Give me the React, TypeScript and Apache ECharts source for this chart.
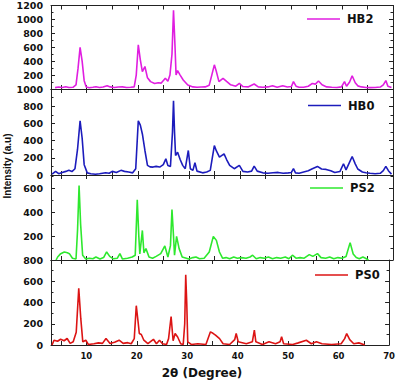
import React, { useEffect, useRef } from "react";
import * as echarts from "echarts";

// XRD patterns: [2θ (degree), intensity (a.u.)]
const hb2: [number, number][] = [
  [3.8, 20], [4.5, 28], [5.2, 22], [5.9, 32], [6.5, 22], [7.3, 25], [7.9, 60], [8.3, 300], [8.7, 598], [9.1, 400],
  [9.5, 120], [9.9, 30], [10.5, 18], [11.2, 25], [11.8, 32], [12.5, 22], [13.2, 28], [14.0, 48], [14.6, 30], [15.4, 22],
  [16.2, 28], [17.0, 30], [17.8, 22], [18.6, 25], [19.3, 30], [19.7, 200], [20.1, 636], [20.5, 420], [20.9, 250], [21.4, 323],
  [21.9, 160], [22.5, 106], [23.3, 80], [24.0, 90], [24.6, 85], [25.4, 155], [25.9, 110], [26.3, 200], [26.7, 500], [27.0, 1133],
  [27.3, 600], [27.5, 200], [27.8, 265], [28.3, 200], [28.9, 130], [29.8, 58], [30.8, 30], [31.6, 25], [32.4, 28], [33.2, 30],
  [34.0, 55], [34.5, 200], [35.0, 347], [35.4, 250], [35.9, 106], [36.7, 154], [37.4, 110], [38.2, 60], [39.2, 40], [39.9, 80],
  [40.6, 35], [41.6, 30], [42.8, 72], [43.6, 30], [44.5, 25], [45.5, 30], [46.4, 46], [47.3, 25], [48.4, 46], [49.3, 28],
  [50.1, 35], [50.5, 106], [51.0, 40], [51.6, 25], [52.5, 25], [53.4, 40], [54.2, 80], [54.8, 70], [55.4, 115], [56.1, 60],
  [57.0, 30], [58.0, 25], [59.0, 22], [59.9, 30], [60.5, 106], [60.9, 40], [61.5, 100], [62.0, 190], [62.6, 90], [63.1, 45],
  [63.8, 30], [64.7, 22], [65.5, 20], [66.5, 22], [67.5, 28], [68.1, 60], [68.6, 120], [69.0, 40], [69.7, 20],
];

const hb0: [number, number][] = [
  [3.2, 10], [3.9, 42], [4.5, 15], [5.2, 30], [5.9, 42], [6.5, 54], [7.1, 40], [7.7, 73], [8.2, 300], [8.7, 631],
  [9.1, 430], [9.5, 120], [10.1, 25], [10.8, 15], [11.7, 8], [12.5, 15], [13.7, 27], [14.4, 20], [15.0, 42], [15.8, 30],
  [16.7, 54], [17.4, 42], [18.2, 35], [19.0, 25], [19.6, 73], [20.1, 631], [20.5, 580], [20.9, 477], [21.4, 285], [21.9, 112],
  [22.4, 95], [23.0, 92], [23.6, 100], [24.3, 92], [25.0, 120], [25.5, 188], [25.9, 110], [26.4, 100], [26.8, 500], [27.0, 862],
  [27.2, 500], [27.4, 227], [27.8, 265], [28.3, 180], [28.8, 112], [29.3, 73], [29.9, 285], [30.3, 73], [30.8, 54], [31.2, 142],
  [31.6, 45], [32.7, 25], [33.5, 35], [34.2, 54], [34.6, 200], [35.0, 342], [35.4, 280], [36.0, 208], [36.9, 246], [37.4, 180],
  [38.0, 112], [38.9, 73], [39.9, 112], [40.6, 42], [41.5, 35], [42.3, 45], [42.8, 104], [43.4, 45], [44.5, 25], [45.5, 20],
  [46.5, 27], [47.5, 30], [48.5, 20], [49.5, 25], [50.1, 30], [50.5, 73], [50.9, 25], [51.6, 20], [52.5, 35], [53.4, 50],
  [54.2, 73], [55.2, 100], [56.0, 70], [56.9, 65], [57.8, 50], [58.6, 30], [59.6, 40], [60.3, 131], [60.8, 60], [61.5, 150],
  [62.0, 215], [62.6, 130], [63.1, 70], [64.0, 35], [64.7, 27], [65.5, 20], [66.5, 15], [67.5, 20], [68.1, 50], [68.6, 100],
  [69.1, 50], [69.7, 10],
];

const ps2: [number, number][] = [
  [4.0, 0], [4.3, 25], [4.9, 53], [5.6, 67], [6.2, 60], [6.6, 53], [7.2, 15], [7.9, 8], [8.2, 250], [8.5, 623],
  [8.8, 300], [9.2, 40], [9.8, 8], [10.5, 15], [11.2, 10], [11.8, 25], [12.6, 8], [13.3, 20], [13.9, 67], [14.5, 30],
  [15.2, 10], [16.0, 15], [16.5, 53], [17.0, 8], [18.0, 15], [18.9, 25], [19.5, 40], [19.9, 503], [20.2, 200], [20.4, 50],
  [20.9, 247], [21.2, 60], [21.6, 95], [22.2, 25], [22.9, 15], [23.6, 30], [24.5, 53], [25.3, 117], [25.9, 25], [26.4, 120],
  [26.7, 422], [27.0, 200], [27.2, 40], [27.6, 197], [28.1, 95], [28.7, 25], [30.0, 8], [30.8, 20], [31.4, 25], [32.1, 10],
  [33.0, 15], [34.0, 67], [34.8, 197], [35.4, 164], [36.0, 67], [36.6, 15], [37.3, 20], [38.0, 10], [38.8, 25], [39.5, 15],
  [40.3, 20], [41.2, 15], [42.0, 25], [42.5, 40], [43.2, 10], [44.0, 20], [44.8, 15], [45.6, 25], [46.4, 10], [47.2, 20],
  [48.0, 15], [48.9, 25], [49.6, 10], [50.3, 40], [51.0, 15], [51.8, 20], [52.6, 15], [53.6, 45], [54.3, 30], [55.2, 53],
  [55.9, 20], [56.8, 15], [57.6, 25], [58.4, 10], [59.2, 20], [60.0, 15], [60.8, 30], [61.6, 145], [62.2, 50], [62.8, 20],
  [63.4, 10], [64.1, 25], [64.6, 15], [65.2, 0],
];

const ps0: [number, number][] = [
  [3.2, 0], [3.6, 45], [4.3, 35], [4.9, 54], [5.6, 40], [6.2, 61], [6.8, 15], [7.4, 30], [8.0, 120], [8.5, 533],
  [8.9, 250], [9.3, 30], [9.9, 45], [10.4, 5], [11.5, 12], [12.4, 20], [13.2, 15], [13.9, 61], [14.7, 15], [15.6, 25],
  [16.5, 45], [17.3, 15], [18.2, 22], [18.9, 12], [19.5, 60], [19.9, 370], [20.3, 200], [20.5, 108], [20.9, 99], [21.4, 45],
  [22.2, 12], [23.3, 54], [23.9, 12], [24.5, 45], [25.1, 12], [25.9, 5], [26.3, 60], [26.8, 268], [27.2, 40], [27.6, 108],
  [28.1, 75], [28.7, 12], [29.2, 5], [29.5, 200], [29.7, 660], [29.9, 400], [30.1, 30], [30.8, 5], [32.1, 12], [33.7, 5],
  [34.6, 124], [35.1, 110], [35.6, 93], [36.4, 60], [37.1, 12], [38.4, 5], [39.4, 50], [39.7, 108], [40.1, 30], [41.7, 12],
  [42.9, 30], [43.3, 140], [43.6, 30], [44.9, 5], [46.2, 30], [47.5, 12], [48.4, 30], [48.7, 77], [49.1, 12], [50.9, 5],
  [52.0, 20], [53.6, 45], [54.6, 12], [55.6, 30], [56.7, 12], [58.6, 5], [60.5, 12], [61.2, 60], [61.6, 108], [62.2, 50],
  [63.0, 12], [64.0, 20], [65.2, 0],
];

const sampleNames = ["HB2", "HB0", "PS2", "PS0"];
const sampleColors = ["#e01ee0", "#1c1cbc", "#2ee82e", "#dc1414"];
const yMax = [1200, 1000, 710, 800];
const xTicks = [5, 10, 15, 20, 25, 30, 35, 40, 45, 50, 55, 60, 65, 70];
const xLabels = [10, 20, 30, 40, 50, 60, 70];

const X_MIN = 3;
const X_MAX = 70;
const AXIS_COLOR = "#222";
const LABEL_FONT = "DejaVu Sans";

// panel geometry (px); legend rows are placed by their vertical centre
const panels = [
  { top: 5.5, height: 83.5, legendLeft: 307, legendMid: 19, showMin: false, showMax: true },
  { top: 89, height: 86, legendLeft: 308, legendMid: 105.5, showMin: true, showMax: true },
  { top: 175, height: 85, legendLeft: 310, legendMid: 188, showMin: false, showMax: false },
  { top: 260, height: 85, legendLeft: 315, legendMid: 275, showMin: true, showMax: true },
];

export default function App() {
  const ref = useRef<HTMLDivElement>(null);

  useEffect(() => {
    if (!ref.current) return;
    const chart = echarts.init(ref.current, null, { renderer: "svg" });
    const seriesData = [hb2, hb0, ps2, ps0];

    const grid: any[] = [];
    const xAxis: any[] = [];
    const yAxis: any[] = [];
    const series: any[] = [];
    const legend: any[] = [];

    panels.forEach((p, g) => {
      grid.push({ left: 51, right: 5, top: p.top, height: p.height });
      const isLast = g === panels.length - 1;
      const xBase = {
        type: "value",
        gridIndex: g,
        min: X_MIN,
        max: X_MAX,
        splitLine: { show: false },
        axisLine: { onZero: false, lineStyle: { color: AXIS_COLOR, width: 1 } },
        axisTick: { inside: true, length: 4, customValues: xTicks, lineStyle: { color: AXIS_COLOR } },
      };
      xAxis.push({
        ...xBase,
        position: "bottom",
        axisLabel: {
          show: isLast,
          customValues: xLabels,
          margin: 6,
          color: "#111",
          fontFamily: LABEL_FONT,
          fontWeight: "bold",
          fontSize: 8.5,
        },
      });
      xAxis.push({ ...xBase, position: "top", axisLabel: { show: false } });

      const yBase = {
        type: "value",
        gridIndex: g,
        min: 0,
        max: yMax[g],
        interval: 200,
        splitLine: { show: false },
        axisLine: { show: true, onZero: false, lineStyle: { color: AXIS_COLOR, width: 1 } },
        axisTick: { show: true, inside: true, length: 4, lineStyle: { color: AXIS_COLOR } },
        minorTick: { show: true, splitNumber: 2, length: 2.5, lineStyle: { color: AXIS_COLOR } },
      };
      yAxis.push({
        ...yBase,
        position: "left",
        axisLabel: {
          margin: 8,
          color: "#111",
          fontFamily: LABEL_FONT,
          fontWeight: "bold",
          fontSize: 9.5,
          showMinLabel: p.showMin,
          showMaxLabel: p.showMax,
          formatter: (v: number) => String(v),
        },
      });
      yAxis.push({ ...yBase, position: "right", axisLabel: { show: false } });

      series.push({
        name: sampleNames[g],
        type: "line",
        xAxisIndex: 2 * g,
        yAxisIndex: 2 * g,
        data: seriesData[g],
        symbol: "none",
        clip: true,
        lineStyle: { color: sampleColors[g], width: 1.6 },
        itemStyle: { color: sampleColors[g] },
      });

      legend.push({
        data: [sampleNames[g]],
        left: p.legendLeft,
        top: p.legendMid - 7,
        padding: 0,
        icon: "rect",
        itemWidth: 33,
        itemHeight: 1.6,
        textStyle: {
          color: "#111",
          fontFamily: LABEL_FONT,
          fontWeight: "bold",
          fontSize: 11.5,
          lineHeight: 14,
          padding: [0, 0, 0, 2],
        },
      });
    });

    chart.setOption({
      animation: false,
      backgroundColor: "#fff",
      grid,
      xAxis,
      yAxis,
      series,
      legend,
      graphic: [
        {
          type: "text",
          x: 7,
          y: 166,
          rotation: Math.PI / 2,
          style: {
            text: "Intensity (a.u)",
            fill: "#111",
            font: "bold 10px 'Liberation Sans', Arial, sans-serif",
            align: "center",
            verticalAlign: "middle",
          },
        },
        {
          type: "text",
          x: 202,
          y: 373,
          style: {
            text: "2θ (Degree)",
            fill: "#111",
            font: "bold 12px 'DejaVu Sans', sans-serif",
            align: "center",
            verticalAlign: "middle",
          },
        },
      ],
    });

    return () => chart.dispose();
  }, []);

  return (
    <div
      ref={ref}
      style={{ position: "fixed", left: 0, top: 0, width: 398, height: 382, background: "#fff" }}
    />
  );
}
